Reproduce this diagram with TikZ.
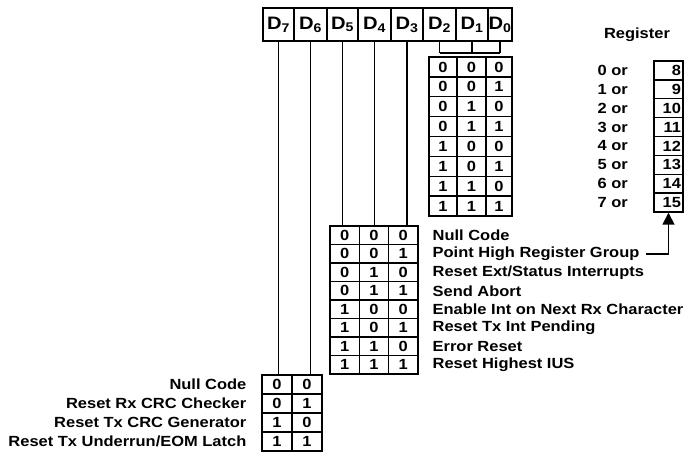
\documentclass[tikz,border=0pt]{standalone}
\usepackage{fontspec}
\setmainfont{Liberation Sans}[FakeStretch=1.12]
\usetikzlibrary{arrows.meta}
\newcommand\lblfont{\fontsize{14.7}{16}\selectfont\bfseries}
\newcommand\hdrfont{\fontsize{18}{20}\selectfont\bfseries}
\begin{document}
\begin{tikzpicture}[x=1pt,y=-1pt,line width=1.3pt,
  hdr/.style={draw,line width=1.5pt,inner sep=0pt,minimum height=33pt,font=\hdrfont},
  cell/.style={draw,line width=1.4pt,inner sep=0pt,font=\lblfont},
  lbl/.style={inner sep=0pt,font=\lblfont},
  conn/.style={line width=1.3pt},
  arr/.style={line width=1.5pt,-{Triangle[width=12pt,length=12pt]}}]
\useasboundingbox (0,0) rectangle (686,456);
% header
\node[hdr,minimum width=31pt] (d7) at (278.5,24.5) {D\textsubscript{7}};
\node[hdr,minimum width=33pt] (d6) at (310.5,24.5) {D\textsubscript{6}};
\node[hdr,minimum width=31pt] (d5) at (342.5,24.5) {D\textsubscript{5}};
\node[hdr,minimum width=33pt] (d4) at (374.5,24.5) {D\textsubscript{4}};
\node[hdr,minimum width=32pt] (d3) at (407,24.5) {D\textsubscript{3}};
\node[hdr,minimum width=33pt] (d2) at (439.5,24.5) {D\textsubscript{2}};
\node[hdr,minimum width=32pt] (d1) at (472,24.5) {D\textsubscript{1}};
\node[hdr,minimum width=24pt] (d0) at (500,24.5) {D\textsubscript{0}};
% D2..D0 table
\foreach \r in {0,...,7}{
  \pgfmathtruncatemacro\ba{div(\r,4)}
  \pgfmathtruncatemacro\bb{mod(div(\r,2),2)}
  \pgfmathtruncatemacro\bc{mod(\r,2)}
  \pgfmathsetmacro\yy{57+19.875*\r+9.94}
  \node[cell,minimum width=28pt,minimum height=19.875pt] (a\r-2) at (443,\yy) {\ba};
  \node[cell,minimum width=29pt,minimum height=19.875pt] (a\r-1) at (471.5,\yy) {\bb};
  \node[cell,minimum width=26pt,minimum height=19.875pt] (a\r-0) at (499,\yy) {\bc};
}
\coordinate (j2) at (d2.south |- 0,53);
\coordinate (j0) at (d0.south |- 0,53);
\draw[conn] (d2.south) -- (j2);
\draw[conn] (d1.south) -- (d1.south |- j2);
\draw[conn] (d0.south) -- (j0);
\draw[conn] (j2) -- (j0);
% Register column
\node[lbl] (regt) at (637,35) {Register};
\foreach \r/\n in {0/8,1/9,2/10,3/11,4/12,5/13,6/14,7/15}{
  \pgfmathsetmacro\yy{61+18.875*\r+9.44}
  \node[cell,minimum width=29pt,minimum height=18.875pt,align=right,text width=25pt] (g\r) at (668.5,\yy) {\n};
  \node[lbl,anchor=west] (o\r) at (597,\yy) {\r\ or};
}
% D5..D3 table
\foreach \r/\t in {0/{Null Code},1/{Point High Register Group},2/{Reset Ext/Status Interrupts},3/{Send Abort},4/{Enable Int on Next Rx Character},5/{Reset Tx Int Pending},6/{Error Reset},7/{Reset Highest IUS}}{
  \pgfmathtruncatemacro\ba{div(\r,4)}
  \pgfmathtruncatemacro\bb{mod(div(\r,2),2)}
  \pgfmathtruncatemacro\bc{mod(\r,2)}
  \pgfmathsetmacro\yy{226+18.5*\r+9.25}
  \node[cell,minimum width=29.3pt,minimum height=18.5pt] (m\r-5) at (344.65,\yy) {\ba};
  \node[cell,minimum width=29.3pt,minimum height=18.5pt] (m\r-4) at (373.95,\yy) {\bb};
  \node[cell,minimum width=29.3pt,minimum height=18.5pt] (m\r-3) at (403.25,\yy) {\bc};
  \node[lbl,anchor=west] (ml\r) at (432,\yy) {\t};
}
\draw[conn] (d5.south) -- (d5.south |- m0-5.north);
\draw[conn] (d4.south) -- (d4.south |- m0-4.north);
\draw[conn] (d3.south) -- (d3.south |- m0-3.north);
% D7..D6 table
\foreach \r/\t in {0/{Null Code},1/{Reset Rx CRC Checker},2/{Reset Tx CRC Generator},3/{Reset Tx Underrun/EOM Latch}}{
  \pgfmathtruncatemacro\ba{div(\r,2)}
  \pgfmathtruncatemacro\bb{mod(\r,2)}
  \pgfmathsetmacro\yy{375+19*\r+9.5}
  \node[cell,minimum width=30pt,minimum height=19pt] (b\r-7) at (277,\yy) {\ba};
  \node[cell,minimum width=30pt,minimum height=19pt] (b\r-6) at (307,\yy) {\bb};
  \node[lbl,anchor=east] (bl\r) at (247,\yy) {\t};
}
\draw[conn] (d7.south) -- (d7.south |- b0-7.north);
\draw[conn] (d6.south) -- (d6.south |- b0-6.north);
% arrow
\coordinate (as) at ([xshift=6pt]ml1.east);
\draw[arr] (as) -- (g7.south |- as) -- (g7.south);
\end{tikzpicture}
\end{document}
